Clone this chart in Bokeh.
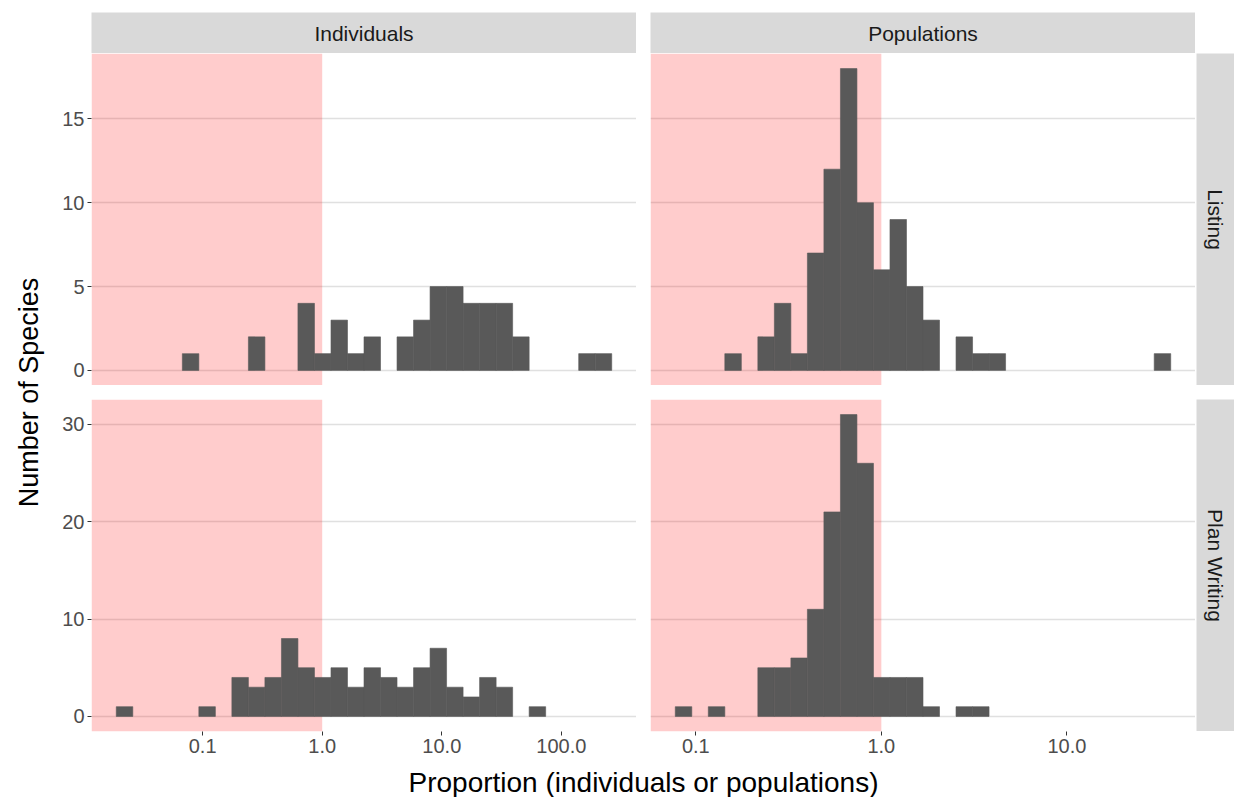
import math
from bokeh.plotting import figure
from bokeh.models import Range1d, FixedTicker, Spacer, ColumnDataSource
from bokeh.layouts import row, column
from bokeh.embed import file_html
from bokeh.resources import INLINE
from bokeh.core.properties import value

# ---------------- data ----------------
COLUMNS = ["Individuals", "Populations"]
ROWS = ["Listing", "Plan Writing"]
X_TITLE = "Proportion (individuals or populations)"
Y_TITLE = "Number of Species"
THRESHOLD = 1.0

# histogram binning on log10 scale: centre of first bin and bin width (30 bins)
BIN_CENTER0 = {"Individuals": -1.653, "Populations": -1.066}
BIN_WIDTH = {"Individuals": 0.1381, "Populations": 0.0890}

COUNTS_LISTING_INDIVIDUALS = [0, 0, 0, 0, 1, 0, 0, 0, 2, 0,
                              0, 4, 1, 3, 1, 2, 0, 2, 3, 5,
                              5, 4, 4, 4, 2, 0, 0, 0, 1, 1]
COUNTS_PLAN_INDIVIDUALS = [1, 0, 0, 0, 0, 1, 0, 4, 3, 4,
                           8, 5, 4, 5, 3, 5, 4, 3, 5, 7,
                           3, 2, 4, 3, 0, 1, 0, 0, 0, 0]
COUNTS_LISTING_POPULATIONS = [0, 0, 0, 1, 0, 2, 4, 1, 7, 12,
                              18, 10, 6, 9, 5, 3, 0, 2, 1, 1,
                              0, 0, 0, 0, 0, 0, 0, 0, 0, 1]
COUNTS_PLAN_POPULATIONS = [1, 0, 1, 0, 0, 5, 5, 6, 11, 21,
                           31, 26, 4, 4, 4, 1, 0, 1, 1, 0,
                           0, 0, 0, 0, 0, 0, 0, 0, 0, 0]

X_TICKS = {"Individuals": [0.1, 1.0, 10.0, 100.0], "Populations": [0.1, 1.0, 10.0]}
X_TICK_LABELS = {"Individuals": ["0.1", "1.0", "10.0", "100.0"], "Populations": ["0.1", "1.0", "10.0"]}
Y_TICKS = {"Listing": [0, 5, 10, 15], "Plan Writing": [0, 10, 20, 30]}

# ---------------- style ----------------
FONT = "Liberation Sans"
BAR_COLOR = "#595959"
STRIP_COLOR = "#D9D9D9"
GRID_COLOR = "#E0E0E0"
FRAME_W = 545
FRAME_H = 332
YTITLE_W = 56
LEFT_BORDER = 35
BOTTOM_BORDER = 30
GAP = 14
TOP_PAD = 12
STRIP_TOP_H = 41
STRIP_RIGHT_W = 38
XTITLE_H = 36


def style_axes(p):
    for ax in p.axis:
        ax.axis_line_color = None
        ax.major_tick_line_color = "#333333"
        ax.major_tick_out = 4
        ax.major_tick_in = 0
        ax.minor_tick_line_color = None
        ax.major_label_text_color = "#4D4D4D"
        ax.major_label_text_font = FONT
        ax.major_label_text_font_size = "20px"
        ax.major_label_standoff = 3


def panel(col, rowname, counts, row_max, show_x, show_y):
    c0 = BIN_CENTER0[col]
    w = BIN_WIDTH[col]
    n = len(counts)
    lo = c0 - w / 2
    hi = c0 + (n - 0.5) * w
    pad = 0.05 * (hi - lo)
    xr = Range1d(10 ** (lo - pad), 10 ** (hi + pad))
    yr = Range1d(-0.05 * row_max, 1.05 * row_max)
    p = figure(x_axis_type="log", x_range=xr, y_range=yr,
               frame_width=FRAME_W, frame_height=FRAME_H,
               output_backend="svg", toolbar_location=None,
               x_axis_location="below" if show_x else None,
               y_axis_location="left" if show_y else None,
               min_border_left=LEFT_BORDER if show_y else 0,
               min_border_right=0, min_border_top=0,
               min_border_bottom=BOTTOM_BORDER if show_x else 0,
               background_fill_color="white", border_fill_color="white",
               outline_line_color=None)
    p.xgrid.visible = False
    p.ygrid.ticker = FixedTicker(ticks=Y_TICKS[rowname])
    p.ygrid.grid_line_color = GRID_COLOR
    p.ygrid.grid_line_width = 1.5
    p.ygrid.minor_grid_line_color = None

    # shaded region below the threshold
    p.quad(left=[xr.start], right=[THRESHOLD], bottom=[yr.start], top=[yr.end],
           fill_color="red", fill_alpha=0.2, line_color=None)

    left = [10 ** (c0 + (i - 0.5) * w) for i in range(n)]
    right = [10 ** (c0 + (i + 0.5) * w) for i in range(n)]
    keep = [i for i in range(n) if counts[i] > 0]
    src = ColumnDataSource(dict(left=[left[i] for i in keep], right=[right[i] for i in keep],
                                top=[counts[i] for i in keep], bottom=[0] * len(keep)))
    p.quad(left="left", right="right", top="top", bottom="bottom", source=src,
           fill_color=BAR_COLOR, line_color=BAR_COLOR, line_width=0.6)

    if show_x:
        p.xaxis.ticker = FixedTicker(ticks=X_TICKS[col])
        p.xaxis.major_label_overrides = dict(zip(X_TICKS[col], X_TICK_LABELS[col]))
    if show_y:
        p.yaxis.ticker = FixedTicker(ticks=Y_TICKS[rowname])
    style_axes(p)
    return p


def text_box(label, w, h, bg, angle=0.0, size="21px", color="#1A1A1A", ypos=0.5):
    s = figure(frame_width=w, frame_height=h, x_range=Range1d(0, 1), y_range=Range1d(0, 1),
               toolbar_location=None, output_backend="svg",
               x_axis_location=None, y_axis_location=None, min_border=0,
               background_fill_color=bg, border_fill_color=bg, outline_line_color=None)
    s.grid.visible = False
    s.text(x=[0.5], y=[ypos], text=[label], angle=angle,
           text_align="center", text_baseline="middle",
           text_font=value(FONT), text_font_size=size, text_color=color)
    return s


max_listing = max(max(COUNTS_LISTING_INDIVIDUALS), max(COUNTS_LISTING_POPULATIONS))
max_plan = max(max(COUNTS_PLAN_INDIVIDUALS), max(COUNTS_PLAN_POPULATIONS))

pTL = panel("Individuals", "Listing", COUNTS_LISTING_INDIVIDUALS, max_listing, False, True)
pTR = panel("Populations", "Listing", COUNTS_LISTING_POPULATIONS, max_listing, False, False)
pBL = panel("Individuals", "Plan Writing", COUNTS_PLAN_INDIVIDUALS, max_plan, True, True)
pBR = panel("Populations", "Plan Writing", COUNTS_PLAN_POPULATIONS, max_plan, True, False)

stripL = text_box(COLUMNS[0], FRAME_W, STRIP_TOP_H, STRIP_COLOR)
stripR = text_box(COLUMNS[1], FRAME_W, STRIP_TOP_H, STRIP_COLOR)
stripR1 = text_box(ROWS[0], STRIP_RIGHT_W, FRAME_H, STRIP_COLOR, angle=-math.pi / 2)
stripR2 = text_box(ROWS[1], STRIP_RIGHT_W, FRAME_H, STRIP_COLOR, angle=-math.pi / 2)

ytitle = text_box(Y_TITLE, YTITLE_W, 2 * FRAME_H + GAP, "white", angle=math.pi / 2,
                  size="27px", color="black")
xtitle = text_box(X_TITLE, 2 * FRAME_W + GAP, XTITLE_H, "white", size="28px", color="black",
                  ypos=0.42)

main_col = column(
    Spacer(height=TOP_PAD),
    row(Spacer(width=LEFT_BORDER), stripL, Spacer(width=GAP), stripR),
    row(pTL, Spacer(width=GAP), pTR, Spacer(width=1), stripR1),
    Spacer(height=GAP),
    row(pBL, Spacer(width=GAP), pBR, Spacer(width=1), stripR2),
    row(Spacer(width=LEFT_BORDER), xtitle),
)
left_col = column(Spacer(height=TOP_PAD + STRIP_TOP_H), ytitle)
root = row(left_col, main_col)

open("out.html", "w").write(file_html(root, INLINE))
